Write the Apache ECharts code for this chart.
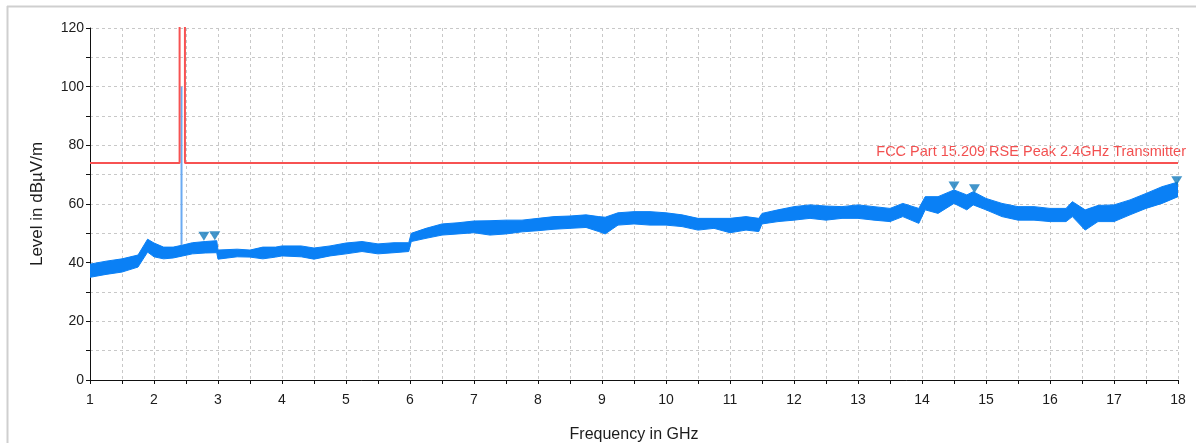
<!DOCTYPE html>
<html>
<head>
<meta charset="utf-8">
<script src="https://cdn.jsdelivr.net/npm/echarts@6/dist/echarts.min.js"></script>
<style>
  html, body { margin: 0; padding: 0; background: #fff; }
  #chart { width: 1196px; height: 443px; }
</style>
</head>
<body>
<div id="chart"></div>
<script>
// frequency points (GHz)
const freq = [1.0, 1.25, 1.5, 1.75, 1.9, 2.0, 2.15, 2.3, 2.45, 2.6, 2.8, 2.98, 3.0, 3.3, 3.5, 3.7, 3.9,
  4.0, 4.3, 4.5, 4.75, 5.0, 5.25, 5.5, 5.75, 5.98, 6.02, 6.25, 6.5, 6.75, 7.0, 7.25, 7.5, 7.75,
  8.0, 8.25, 8.5, 8.75, 8.95, 9.05, 9.25, 9.5, 9.75, 10.0, 10.25, 10.5, 10.75, 11.0, 11.25, 11.45,
  11.5, 11.75, 12.0, 12.25, 12.5, 12.75, 13.0, 13.25, 13.5, 13.7, 13.95, 14.05, 14.25, 14.5, 14.7,
  14.8, 15.0, 15.25, 15.5, 15.75, 16.0, 16.25, 16.35, 16.55, 16.75, 17.0, 17.25, 17.5, 17.75, 18.0]
// upper / lower edge of the noisy peak trace (dBuV/m)
const traceHigh = [39.5, 40.5, 41.3, 42.6, 48, 46.7, 45.3, 45.3, 46, 46.8, 47.2, 47.5, 44.3, 44.6, 44.3, 45.3, 45.3,
  45.7, 45.7, 45, 45.7, 46.7, 47.2, 46.4, 46.8, 46.8, 50, 51.7, 53.2, 53.6, 54.2, 54.3, 54.5, 54.5,
  55.1, 55.7, 55.9, 56.3, 55.7, 55.5, 57, 57.4, 57.4, 57, 56.3, 55.1, 55.1, 55.1, 55.7, 55.1,
  56.8, 58, 59.1, 59.7, 59.3, 59.1, 59.7, 59.1, 58.5, 60.2, 58.5, 62.5, 62.5, 64.8, 63.1,
  64.2, 61.9, 60.2, 59.1, 59.1, 58.5, 58.5, 60.8, 58, 59.5, 59.7, 61.4, 63.6, 65.9, 67.5]
const traceLow = [35, 36, 36.8, 38.5, 43.6, 42, 41.3, 41.6, 42.3, 43, 43.3, 43.4, 41.2, 42, 41.9, 41.3, 41.9,
  42.3, 42, 41.2, 42.3, 43, 43.8, 43, 43.4, 43.8, 47.2, 48.3, 49.4, 49.8, 50.2, 49.4, 49.8, 50.5,
  50.9, 51.4, 51.7, 52, 50.6, 49.8, 52.8, 53.2, 52.8, 52.8, 52.3, 51.1, 51.7, 50.2, 51.1, 50.6,
  53.2, 54, 54.5, 55.1, 54.5, 55.1, 55.1, 54.5, 54, 55.7, 53.4, 58, 56.8, 60.2, 58,
  59.7, 58, 55.7, 54.5, 54.5, 54, 54, 55.7, 51.1, 54, 54, 56.3, 58.5, 60.2, 62.5]
// 2.4 GHz carrier
const carrierFreq = [2.43, 2.43]
const carrierLevel = [46, 100]
// limit line
const limitFreq = [1, 2.4, 2.4, 2.4835, 2.4835, 18]
const limitLevel = [74, 74, 140, 140, 74, 74]
const limitName = 'FCC Part 15.209 RSE Peak 2.4GHz Transmitter'
// peak markers
const peakFreq = [2.78, 2.95, 14.5, 14.82, 17.98]
const peakLevel = [47.6, 47.8, 64.8, 63.8, 66.6]

const chart = echarts.init(document.getElementById('chart'))

const pairs = (xs, ys) => xs.map((x, i) => [x, ys[i]])
const textFont = '"Liberation Sans", Arial, sans-serif'
const blue = '#0a80f5'

// trace band: polygon between low and high edges, drawn once
function renderBand (params, api) {
  if (params.dataIndexInside !== 0) return
  const top = freq.map((f, i) => api.coord([f, traceHigh[i]]))
  const bottom = freq.map((f, i) => api.coord([f, traceLow[i]])).reverse()
  return {
    type: 'polygon',
    shape: { points: top.concat(bottom) },
    style: { fill: blue, stroke: blue, lineWidth: 1 }
  }
}

chart.setOption({
  animation: false,
  backgroundColor: '#fff',
  textStyle: { fontFamily: textFont },
  grid: { left: 90, right: 18, top: 28, bottom: 63, outerBoundsMode: 'none', containLabel: false },
  graphic: [
    { type: 'line', shape: { x1: 7.5, y1: 6, x2: 7.5, y2: 443 }, style: { stroke: '#cfcfcf', lineWidth: 2 } },
    { type: 'line', shape: { x1: 7, y1: 6.5, x2: 1196, y2: 6.5 }, style: { stroke: '#cfcfcf', lineWidth: 2 } },
    {
      type: 'text', right: 10, top: 144,
      style: { text: limitName, fill: '#f25050', font: '14.5px ' + textFont }
    }
  ],
  xAxis: {
    type: 'value',
    min: 1,
    max: 18,
    interval: 0.5,
    name: 'Frequency in GHz',
    nameLocation: 'middle',
    nameGap: 47,
    nameTextStyle: { color: '#1c1c1c', fontSize: 16 },
    axisLine: { onZero: false, lineStyle: { color: '#111', width: 1 } },
    axisTick: { length: 4, lineStyle: { color: '#111' } },
    axisLabel: {
      color: '#1c1c1c',
      fontSize: 14,
      margin: 13,
      formatter: v => (Number.isInteger(v) ? String(v) : '')
    },
    splitLine: { show: true, lineStyle: { color: '#c8c8c8', type: [3, 3] } }
  },
  yAxis: {
    type: 'value',
    min: 0,
    max: 120,
    interval: 10,
    name: 'Level in dBµV/m',
    nameLocation: 'middle',
    nameGap: 44,
    nameTextStyle: { color: '#1c1c1c', fontSize: 17 },
    axisLine: { show: true, lineStyle: { color: '#111', width: 1 } },
    axisTick: { show: true, length: 4, lineStyle: { color: '#111' } },
    axisLabel: {
      color: '#1c1c1c',
      fontSize: 14,
      margin: 6,
      formatter: v => (v % 20 === 0 ? String(v) : '')
    },
    splitLine: { show: true, lineStyle: { color: '#c8c8c8', type: [3, 3] } }
  },
  series: [
    {
      name: 'trace',
      type: 'custom',
      renderItem: renderBand,
      data: freq.map((f, i) => [f, traceLow[i], traceHigh[i]]),
      encode: { x: 0, y: [1, 2] },
      clip: true,
      z: 2
    },
    {
      name: 'carrier',
      type: 'line',
      data: pairs(carrierFreq, carrierLevel),
      symbol: 'none',
      lineStyle: { color: '#6aaaf2', width: 2 },
      z: 3
    },
    {
      name: 'limit',
      type: 'line',
      data: pairs(limitFreq, limitLevel),
      symbol: 'none',
      clip: true,
      lineStyle: { color: '#f75252', width: 2 },
      z: 4
    },
    {
      name: 'peaks',
      type: 'scatter',
      data: pairs(peakFreq, peakLevel),
      symbol: 'triangle',
      symbolRotate: 180,
      symbolSize: [11, 9],
      symbolOffset: [0, -4],
      itemStyle: { color: '#137bbd' },
      z: 5
    }
  ]
})
</script>
</body>
</html>
